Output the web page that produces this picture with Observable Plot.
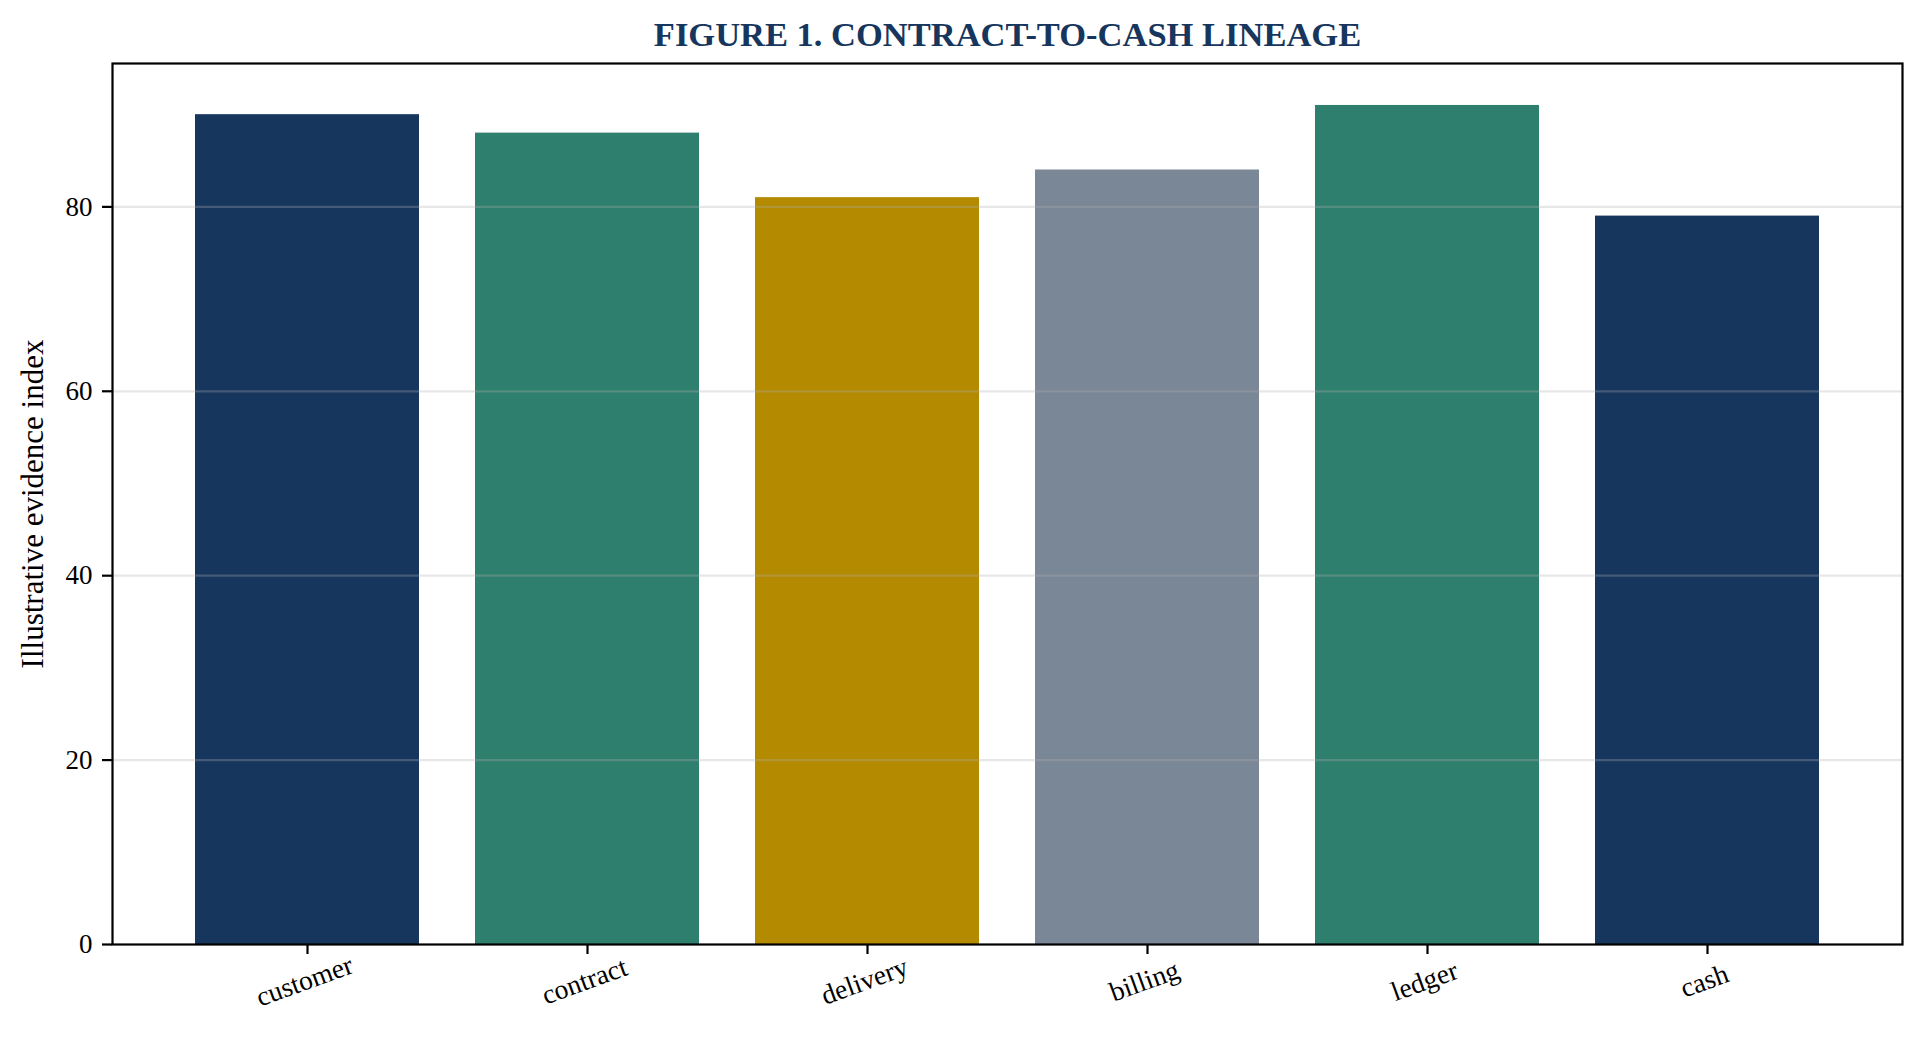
<!DOCTYPE html>
<html>
<head>
<meta charset="utf-8">
<script src="https://cdn.jsdelivr.net/npm/d3@7"></script>
<script src="https://cdn.jsdelivr.net/npm/@observablehq/plot@0.6"></script>
<style>
  html, body { margin: 0; padding: 0; background: #ffffff; }
  #chart svg { display: block; }
</style>
</head>
<body>
<div id="chart"></div>
<script>
const categories = ["customer", "contract", "delivery", "billing", "ledger", "cash"];
const values = [90, 88, 81, 84, 91, 79];
const barColors = ["#17365d", "#2e7f6e", "#b38a00", "#7a8796", "#2e7f6e", "#17365d"];
const yTicks = [0, 20, 40, 60, 80];
const titleText = "FIGURE 1. CONTRACT-TO-CASH LINEAGE";
const yLabel = "Illustrative evidence index";

const data = categories.map((c, i) => ({cat: c, value: values[i], color: barColors[i]}));
const FONT = "'Liberation Serif', 'Times New Roman', serif";

const chart = Plot.plot({
  width: 1924,
  height: 1049,
  marginTop: 63,
  marginLeft: 112,
  marginRight: 22,
  marginBottom: 105,
  style: {fontFamily: FONT, fontSize: "27px", color: "#000", background: "#fff"},
  x: {type: "band", domain: categories, paddingInner: 0.2, paddingOuter: 0.29, align: 0.5},
  y: {domain: [0, 95.55]},
  color: {type: "identity"},
  marks: [
    Plot.barY(data, {x: "cat", y: "value", fill: "color"}),
    Plot.ruleY(yTicks.filter(t => t > 0), {stroke: "#b0b0b0", strokeOpacity: 0.3, strokeWidth: 2.2}),
    Plot.axisY({ticks: yTicks, tickSize: 10, tickPadding: 10, label: null, fontSize: 27, strokeWidth: 2.2}),
    Plot.axisX({tickSize: 10, tickFormat: () => "", label: null, strokeWidth: 2.2}),
    Plot.text(categories, {x: d => d, frameAnchor: "bottom", dy: 45, rotate: -20, textAnchor: "middle", fontSize: 27.5, fill: "#000"}),
    Plot.text([yLabel], {frameAnchor: "left", dx: -79, rotate: -90, textAnchor: "middle", fontSize: 31, fill: "#000"}),
    Plot.text([titleText], {frameAnchor: "top", dy: -42, textAnchor: "middle", fontSize: 34.5, fontWeight: "bold", fill: "#17365d"}),
    Plot.frame({stroke: "#000", strokeWidth: 2.2})
  ]
});
document.getElementById("chart").appendChild(chart);
</script>
</body>
</html>
